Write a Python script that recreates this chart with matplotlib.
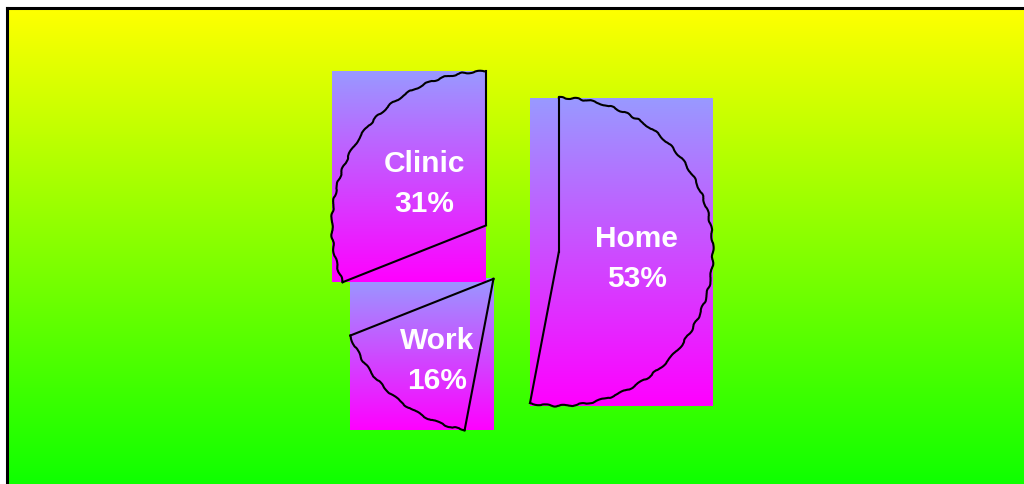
import numpy as np
import matplotlib
matplotlib.use("Agg")
import matplotlib.pyplot as plt
from matplotlib.colors import LinearSegmentedColormap
from matplotlib.lines import Line2D

# Share of visits by location
labels = ["Clinic", "Work", "Home"]
shares = [31, 16, 53]

W, H = 1024, 484
fig = plt.figure(figsize=(W / 100, H / 100), dpi=100, facecolor="white")

# Backdrop panel: vertical yellow -> green gradient with a black frame
bg = fig.add_axes([7 / W, -30 / H, 1.2, (H - 8 + 30) / H])
bg_cmap = LinearSegmentedColormap.from_list("bg", ["#00ff00", "#ffff00"])
bg.imshow(np.linspace(1, 0, 256)[:, None], cmap=bg_cmap, aspect="auto",
          extent=[0, 1, 0, 1], interpolation="bilinear")
bg.set_xticks([])
bg.set_yticks([])
for sp in bg.spines.values():
    sp.set_linewidth(2.2)
    sp.set_color("black")

# Pie layer in pixel-like data units
ax = fig.add_axes([0, 0, 1, 1])
ax.patch.set_visible(False)
R = 154
cx, cy = 519, H - 248
explode = [0.26 * R] * len(shares)

wedges, _ = ax.pie(shares, explode=explode, center=(cx, cy), radius=R,
                   startangle=90, counterclock=True,
                   wedgeprops=dict(facecolor="none", edgecolor="none"))

wedge_cmap = LinearSegmentedColormap.from_list("wedge", ["#ff00ff", "#9999ff"])
grad = np.linspace(1, 0, 256)[:, None]

n = len(wedges)
for i, (w, lab, val) in enumerate(zip(wedges, labels, shares)):
    x0, y0 = w.center
    th = np.radians(np.linspace(w.theta1, w.theta2, 300))
    ax_pts = x0 + w.r * np.cos(th)
    ay_pts = y0 + w.r * np.sin(th)
    xs = np.concatenate([[x0], ax_pts])
    ys = np.concatenate([[y0], ay_pts])
    bx0, bx1 = xs.min(), xs.max()
    by0, by1 = ys.min(), ys.max()

    # gradient block over the wedge's bounding box (later wedges underneath)
    ax.imshow(grad, cmap=wedge_cmap, aspect="auto", interpolation="bilinear",
              extent=[bx0, bx1, by0, by1], zorder=2 + (n - i) * 0.1)

    # outline: straight radii plus a slightly ragged arc
    for seg in (([x0, ax_pts[0]], [y0, ay_pts[0]]),
                ([ax_pts[-1], x0], [ay_pts[-1], y0])):
        ax.add_line(Line2D(*seg, color="black", lw=1.5, zorder=5))
    arc = Line2D(ax_pts, ay_pts, color="black", lw=1.5, zorder=5)
    arc.set_sketch_params(scale=0.9, length=22, randomness=2.5)
    ax.add_line(arc)

    ax.annotate(f"{lab}\n{val}%", xy=((bx0 + bx1) / 2, (by0 + by1) / 2),
                xytext=(11, -5), textcoords="offset points",
                ha="center", va="center", multialignment="center",
                color="white", fontsize=21.5, fontweight="bold",
                family="Liberation Sans", linespacing=1.55, zorder=6)

ax.set_xlim(0, W)
ax.set_ylim(0, H)
ax.set_aspect("auto")
ax.set_axis_off()

fig.savefig("out.png", dpi=100, facecolor="white")
